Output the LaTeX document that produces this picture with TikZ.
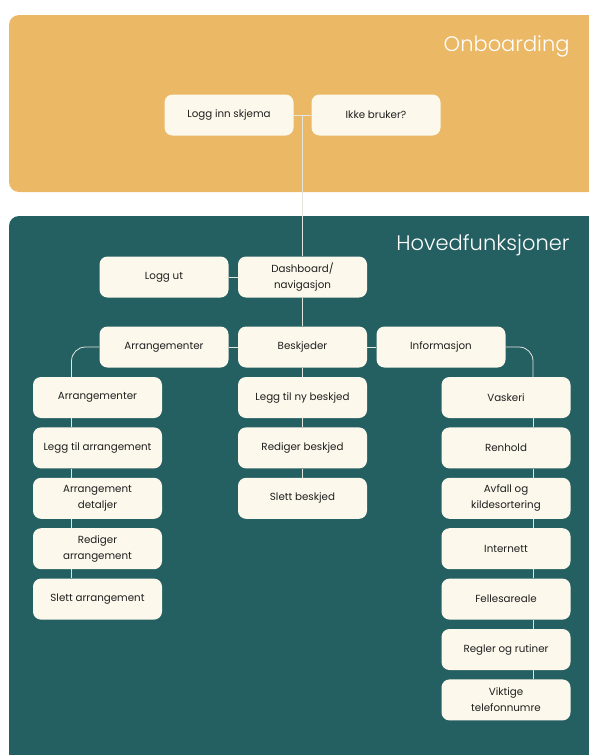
\documentclass[tikz,border=0pt]{standalone}
\usepackage{fontspec}
\setmainfont{Poppins}
\newfontfamily\titlefont{Poppins Light}
\usetikzlibrary{positioning}
\definecolor{onboard}{HTML}{EBB866}
\definecolor{hoved}{HTML}{245F62}
\definecolor{kort}{HTML}{FDF8EC}
\definecolor{linje}{HTML}{E4E6DE}
\begin{document}
\begin{tikzpicture}[x=1pt,y=-1pt,
    box/.style={fill=kort, rounded corners=8pt, minimum width=129pt,
      minimum height=41pt, align=center, inner sep=2pt, text=black!88,
      font=\fontsize{10.3}{16}\selectfont},
    tittel/.style={anchor=east, text=white, font=\titlefont\fontsize{21}{24}\selectfont},
    link/.style={draw=linje, line width=0.8pt}]
  \useasboundingbox (0,0) rectangle (589,755);
  % paneler
  \fill[onboard, rounded corners=10pt] (9,15) rectangle (610,192);
  \fill[hoved, rounded corners=10pt] (9,216) rectangle (610,780);
  \node[tittel] (Onb) at (573,46) {Onboarding};
  \node[tittel] (Hov) at (573,245) {Hovedfunksjoner};

  \node[box] (Inn) at (229,115) {Logg inn skjema};
  \node[box] (Ikke) at (376,115) {Ikke bruker?};
  \node[box] (Dash) at (302.5,277) {Dashboard/\\navigasjon};
  \node[box] (Ut) at (164,277) {Logg ut};
  \node[box] (Arr) at (164,347) {Arrangementer};
  \node[box] (Besk) at (302.5,347) {Beskjeder};
  \node[box] (Info) at (441,347) {Informasjon};

  % venstre kolonne
  \node[box] (Arr-1) at (97.5,397.5) {Arrangementer};
  \node[box, below=9pt of Arr-1] (Arr-2) {Legg til arrangement};
  \node[box, below=9pt of Arr-2] (Arr-3) {Arrangement\\detaljer};
  \node[box, below=9pt of Arr-3] (Arr-4) {Rediger\\arrangement};
  \node[box, below=9pt of Arr-4] (Arr-5) {Slett arrangement};
  % midten
  \node[box] (Besk-1) at (302.5,397.5) {Legg til ny beskjed};
  \node[box, below=9pt of Besk-1] (Besk-2) {Rediger beskjed};
  \node[box, below=9pt of Besk-2] (Besk-3) {Slett beskjed};
  % høyre kolonne
  \node[box] (Info-1) at (506,397.5) {Vaskeri};
  \node[box, below=9pt of Info-1] (Info-2) {Renhold};
  \node[box, below=9pt of Info-2] (Info-3) {Avfall og\\kildesortering};
  \node[box, below=9pt of Info-3] (Info-4) {Internett};
  \node[box, below=9pt of Info-4] (Info-5) {Fellesareale};
  \node[box, below=9pt of Info-5] (Info-6) {Regler og rutiner};
  \node[box, below=9pt of Info-6] (Info-7) {Viktige\\telefonnumre};

  \begin{scope}[link]
    \draw (Inn) -- (Ikke);
    \draw (Dash.north |- Inn.east) -- (Dash.north);
    \draw (Ut) -- (Dash);
    \draw (Dash) -- (Besk);
    \draw (Arr) -- (Besk) -- (Info);
    \draw[rounded corners=14pt] (Arr.west) -| ([xshift=-26pt]Arr-1.north);
    \draw[rounded corners=14pt] (Info.east) -| ([xshift=27pt]Info-1.north);
    \draw (Besk) -- (Besk-1);
    \foreach \i/\j in {1/2,2/3,3/4,4/5}
      \draw ([xshift=-26pt]Arr-\i.south) -- ([xshift=-26pt]Arr-\j.north);
    \foreach \i/\j in {1/2,2/3}
      \draw (Besk-\i) -- (Besk-\j);
    \foreach \i/\j in {1/2,2/3,3/4,4/5,5/6,6/7}
      \draw ([xshift=27pt]Info-\i.south) -- ([xshift=27pt]Info-\j.north);
  \end{scope}
\end{tikzpicture}
\end{document}
